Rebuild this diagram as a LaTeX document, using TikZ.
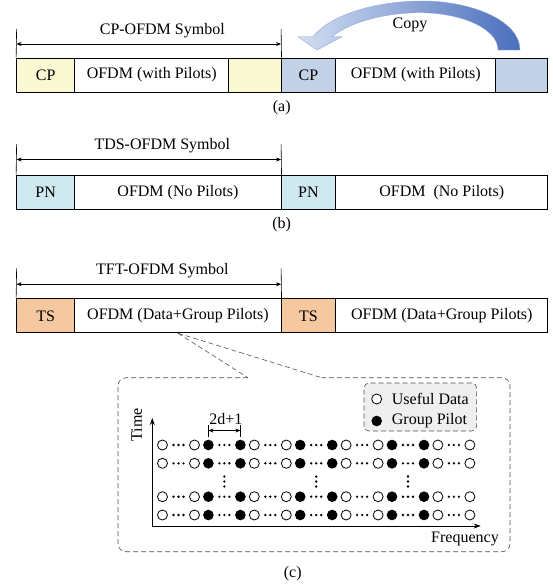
\documentclass[tikz,border=0pt]{standalone}
\usepackage{fontspec}
\setmainfont{Liberation Serif}
\usetikzlibrary{arrows.meta,calc}

\definecolor{cpyellow}{HTML}{FAF8D2}
\definecolor{cpblue}{HTML}{C3D1E6}
\definecolor{pncyan}{HTML}{CFE7EF}
\definecolor{tspeach}{HTML}{F6C8A0}
\definecolor{legendgray}{HTML}{EFEFEF}
\definecolor{copylight}{HTML}{D3DEF2}
\definecolor{copydark}{HTML}{4A6EBD}
\definecolor{copyedge}{HTML}{8FA8D8}
\definecolor{dashgray}{HTML}{505050}

\tikzset{
  txt/.style={font=\fontsize{16}{19}\selectfont},
  seg/.style={txt, draw, line width=0.9pt, minimum height=34pt, inner sep=0pt},
  lbl/.style={txt, inner sep=0pt},
  tick/.style={line width=0.6pt},
  span/.style={line width=0.6pt, {Stealth[length=5pt,width=4pt]}-{Stealth[length=5pt,width=4pt]}},
  axis/.style={line width=0.9pt, -{Stealth[length=7pt,width=5pt]}},
  opendot/.style={circle, draw, line width=0.8pt, minimum size=10pt, inner sep=0pt, fill=white},
  pilotdot/.style={circle, fill=black, minimum size=10.6pt, inner sep=0pt},
  zoomline/.style={draw=dashgray, line width=0.6pt, dash pattern=on 5pt off 3pt},
}

\begin{document}
\begin{tikzpicture}[x=1pt, y=-1pt]
\useasboundingbox (0,0) rectangle (553,584);

% ---------- (a) CP-OFDM ----------
\node[seg, fill=cpyellow, minimum width=58.2pt]  (a1) at (45.7,75)   {CP};
\node[seg, fill=white,    minimum width=153.8pt] (a2) at (151.7,75)  {OFDM (with Pilots)};
\node[seg, fill=cpyellow, minimum width=52.5pt]  (a3) at (254.85,75) {};
\node[seg, fill=cpblue,   minimum width=54.7pt]  (a4) at (308.45,75) {CP};
\node[seg, fill=white,    minimum width=159.8pt] (a5) at (415.7,75)  {OFDM (with Pilots)};
\node[seg, fill=cpblue,   minimum width=52.2pt]  (a6) at (521.7,75)  {};

\coordinate (aTL) at (16.6,29);  \coordinate (aTR) at (281.1,29);
\coordinate (aAL) at (16.6,44);  \coordinate (aAR) at (281.1,44);
\draw[tick] (a1.north west) -- (aTL);
\draw[tick] (a3.north east) -- (aTR);
\draw[span] (aAL) -- (aAR);
\node[lbl, anchor=base] (atitle) at (162.3,34) {CP-OFDM Symbol};

% copy arrow from the tail of the second symbol to its CP
\path[left color=copylight, right color=copydark, draw=copyedge, line width=0.4pt]
  (520,50) .. controls (520,20) and (470,1) .. (423,1)
  .. controls (375,1) and (330,15) .. (313,36.7)
  -- (298,36.7) -- (317,50) -- (342,36.7) -- (332,36.7)
  .. controls (350,22) and (385,12.7) .. (420,12.7)
  .. controls (460,12.7) and (498,28) .. (498,50) -- cycle;
\node[lbl] (copy) at (410,25) {Copy};

\node[lbl] (capa) at (281.7,108) {(a)};

% ---------- (b) TDS-OFDM ----------
\node[seg, fill=pncyan, minimum width=58.2pt]  (b1) at (45.7,192.3)   {PN};
\node[seg, fill=white,  minimum width=206.3pt] (b2) at (177.95,192.3) {OFDM (No Pilots)};
\node[seg, fill=pncyan, minimum width=54.7pt]  (b3) at (308.45,192.3) {PN};
\node[seg, fill=white,  minimum width=212pt]   (b4) at (441.8,192.3)  {OFDM~ (No Pilots)};

\coordinate (bTL) at (16.6,144);   \coordinate (bTR) at (281.1,144);
\coordinate (bAL) at (16.6,159.5); \coordinate (bAR) at (281.1,159.5);
\draw[tick] (b1.north west) -- (bTL);
\draw[tick] (b2.north east) -- (bTR);
\draw[span] (bAL) -- (bAR);
\node[lbl, anchor=base] (btitle) at (162.3,149) {TDS-OFDM Symbol};

\node[lbl] (capb) at (281.7,225) {(b)};

% ---------- (c) TFT-OFDM ----------
\node[seg, fill=tspeach, minimum width=58.2pt]  (c1) at (45.7,315.8)   {TS};
\node[seg, fill=white,   minimum width=206.3pt] (c2) at (177.95,315.8) {OFDM (Data+Group Pilots)};
\node[seg, fill=tspeach, minimum width=54.7pt]  (c3) at (308.45,315.8) {TS};
\node[seg, fill=white,   minimum width=212pt]   (c4) at (441.8,315.8)  {OFDM (Data+Group Pilots)};

\coordinate (cTL) at (16.6,268.3); \coordinate (cTR) at (281.1,268.3);
\coordinate (cAL) at (16.6,284.2); \coordinate (cAR) at (281.1,284.2);
\draw[tick] (c1.north west) -- (cTL);
\draw[tick] (c2.north east) -- (cTR);
\draw[span] (cAL) -- (cAR);
\node[lbl, anchor=base] (ctitle) at (162.3,274) {TFT-OFDM Symbol};

% magnified view of the data/pilot layout
\coordinate (zl) at (248,377.7);
\coordinate (zr) at (321.7,377.7);
\draw[zoomline, rounded corners=8pt]
  (zl) -- (118,377.7) -- (118,551.7) -- (510,551.7) -- (510,377.7) -- (zr);
\draw[zoomline] (c2.south) -- (zl);
\draw[zoomline] (c2.south) -- (zr);

% legend
\node[zoomline, fill=legendgray, rounded corners=5pt, minimum width=112.7pt,
      minimum height=48pt, inner sep=0pt] (legend) at (420.3,407) {};
\node[opendot]  (lgo) at (376.7,399) {};
\node[pilotdot] (lgp) at (376.7,421) {};
\node[lbl, anchor=west] (lgot) at (391.7,399) {Useful Data};
\node[lbl, anchor=west] (lgpt) at (391.7,421) {Group Pilot};

% axes
\coordinate (org)  at (152.3,526);
\coordinate (tTop) at (152.3,418);
\coordinate (fEnd) at (480.7,526);
\draw[axis] (org) -- (tTop);
\draw[axis] (org) -- (fEnd);
\node[lbl, rotate=90] (tlab) at (136.7,425) {Time};
\node[lbl] (flab) at (465,539) {Frequency};

% subcarrier grid
\foreach \y [count=\r] in {445,463.3,496.7,515} {
  \foreach \k in {0,2,4,6} {
    \pgfmathsetmacro\xa{162.5+45.9*\k}
    \node[opendot] (g\r-\k a) at (\xa,\y) {};
    \node[opendot] (g\r-\k b) at (\xa+32,\y) {};
    \foreach \d in {-5,0,5} \fill (\xa+16+\d,\y) circle (1.3);
  }
  \foreach \k in {1,3,5} {
    \pgfmathsetmacro\xa{162.5+45.9*\k}
    \node[pilotdot] (g\r-\k a) at (\xa,\y) {};
    \node[pilotdot] (g\r-\k b) at (\xa+32,\y) {};
    \foreach \d in {-5,0,5} \fill (\xa+16+\d,\y) circle (1.3);
  }
}
% vertical ellipses between the rows
\foreach \k in {1,3,5} {
  \pgfmathsetmacro\xa{162.5+45.9*\k+16}
  \foreach \v in {476.5,481.5,486.5} \fill (\xa,\v) circle (1.3);
}

% pilot group spacing
\draw[tick] (g1-1a.north) ++(0,-3) -- ++(0,-12);
\draw[tick] (g1-1b.north) ++(0,-3) -- ++(0,-12);
\draw[span] ($(g1-1a.north)+(0,-9)$) -- ($(g1-1b.north)+(0,-9)$);
\node[lbl] (dlab) at (225.8,419) {2d+1};

\node[lbl] (capc) at (292.7,574) {(c)};
\end{tikzpicture}
\end{document}
